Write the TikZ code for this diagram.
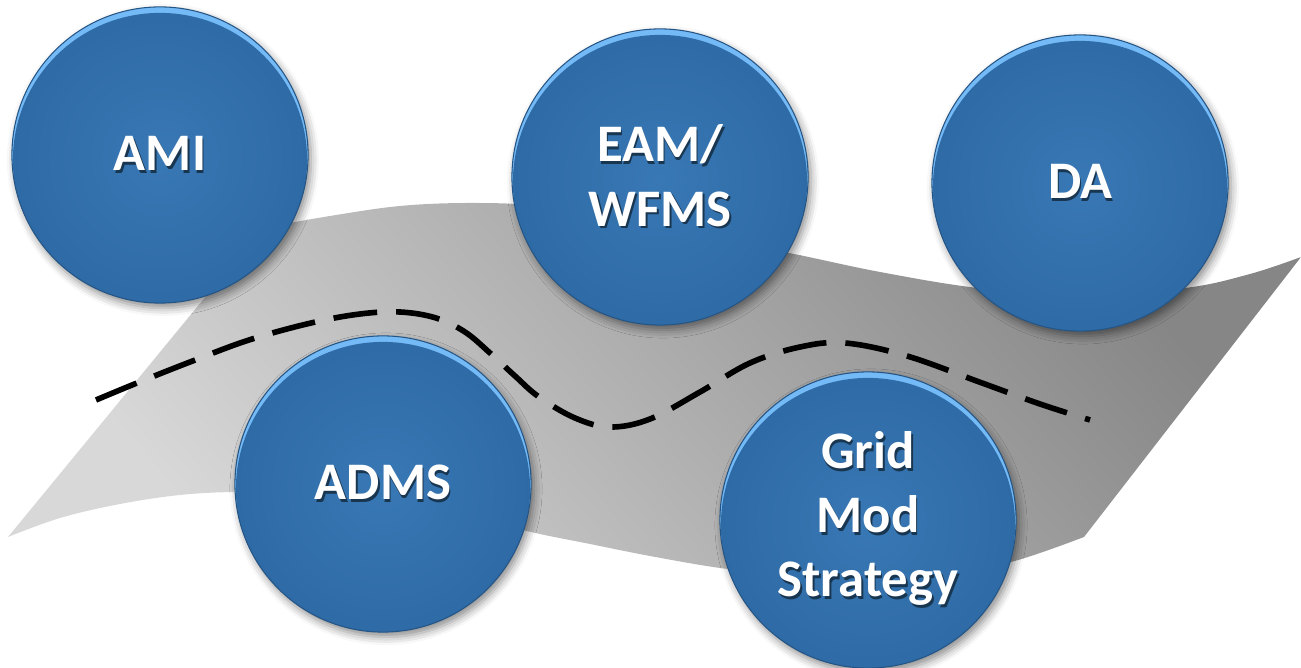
\documentclass[tikz,border=0pt]{standalone}
\usepackage{fontspec}
\setmainfont{Carlito}
\usetikzlibrary{shadows.blur}
\definecolor{bubblemain}{HTML}{3878B4}
\definecolor{bubbleedge}{HTML}{2E6AA6}
\definecolor{bubblehi}{HTML}{74BAF6}
\definecolor{surfdark}{HTML}{868686}
\definecolor{surflight}{HTML}{D8D8D8}
\newcommand\shd[1]{\leavevmode\rlap{\hspace{0.5pt}\raisebox{-0.8pt}{\textcolor{black!55!bubblemain}{#1}}}#1}
\begin{document}
\begin{tikzpicture}[x=0.01cm,y=-0.01cm,
  bubble/.style={circle, minimum size=2.96cm, inner sep=0pt, fill=bubblehi,
    draw=bubbleedge!80!black, line width=0.3pt,
    blur shadow={shadow xshift=0.03cm, shadow yshift=-0.05cm, shadow blur radius=0.08cm, shadow opacity=45},
    path picture={\shade[inner color=bubblemain, outer color=bubbleedge] ([yshift=-0.05cm]path picture bounding box.center) circle (1.47cm);},
    text=white, align=center, font=\fontsize{15pt}{18.3pt}\selectfont\bfseries},
  boundary/.style={dash pattern=on 12.5pt off 5.4pt, line width=1.6pt, black}
  ]
\useasboundingbox (0,0) rectangle (1301,668);
% gray surface
\shade[top color=surfdark, bottom color=surflight, shading angle=-50]
  (8,537) -- (262,228)
  -- plot[smooth, tension=0.6] coordinates {(262,228) (330,216) (400,206) (470,203) (540,206) (620,220) (700,237) (789,253) (880,272) (978,288) (1080,295) (1185,288) (1250,274) (1301,257)}
  -- (1084,537)
  -- plot[smooth, tension=0.6] coordinates {(1084,537) (1011,562) (940,574) (860,577) (780,574) (720,568) (650,556) (590,544) (531,532) (460,514) (380,500) (300,493) (235,492) (180,495) (120,504) (60,518) (8,537)}
  -- cycle;
% dashed curve
\coordinate (ds) at (96,400);
\coordinate (de) at (1090,420);
\draw[boundary] plot[smooth, tension=0.6] coordinates {(ds) (137,383) (190,362) (249,340) (311,323) (360,314) (400,312) (436,318) (465,332) (490,353) (515,376) (539,397) (575,418) (610,427) (650,419) (700,392) (750,363) (800,347) (845,343) (907,356) (982,383) (1040,404) (de)};
% bubbles
\node[bubble] (ami) at (160,155) {\shd{AMI}};
\node[bubble] (eam) at (660,177) {\shd{EAM/}\\\shd{WFMS}};
\node[bubble] (da) at (1080,183) {\shd{DA}};
\node[bubble] (admsn) at (383,484) {\shd{ADMS}};
\node[bubble] (grid) at (868,520) {\shd{Grid}\\\shd{Mod}\\\shd{Strategy}};
\end{tikzpicture}
\end{document}
